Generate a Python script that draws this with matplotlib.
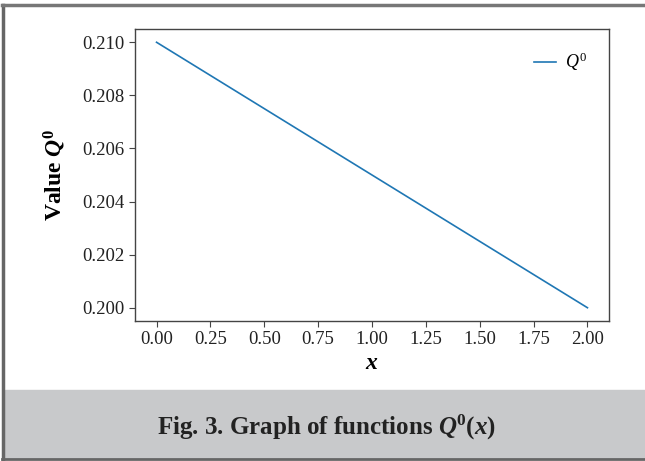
import matplotlib.pyplot as plt
from matplotlib.patches import Rectangle
import numpy as np

x_vals = [0.0, 2.0]
q0_vals = [0.210, 0.200]
x_ticks = [0.00, 0.25, 0.50, 0.75, 1.00, 1.25, 1.50, 1.75, 2.00]
y_ticks = [0.200, 0.202, 0.204, 0.206, 0.208, 0.210]

plt.rcParams['font.family'] = ['Liberation Serif', 'DejaVu Serif']
plt.rcParams['mathtext.fontset'] = 'custom'
plt.rcParams['mathtext.rm'] = 'Liberation Serif'
plt.rcParams['mathtext.it'] = 'Liberation Serif:italic'
plt.rcParams['mathtext.bf'] = 'Liberation Serif:italic:bold'
plt.rcParams['mathtext.sf'] = 'Liberation Serif:bold'

W, H = 645, 461
fig = plt.figure(figsize=(W / 100, H / 100), dpi=100)

# frame and caption band
fig.patches.append(Rectangle((5 / W, 1 - 458 / H), 640 / W, 68 / H,
                             transform=fig.transFigure, color='#c8c9cb', zorder=0))
fig.add_artist(plt.Line2D([3 / W, 3 / W], [1 - 460 / H, 1 - 5 / H], transform=fig.transFigure,
                          color='#666666', lw=2.5))
fig.add_artist(plt.Line2D([2 / W, 1], [1 - 5.5 / H, 1 - 5.5 / H], transform=fig.transFigure,
                          color='#777777', lw=2.5))
fig.add_artist(plt.Line2D([2 / W, 1], [1 - 459 / H, 1 - 459 / H], transform=fig.transFigure,
                          color='#666666', lw=2))

ax = fig.add_axes([135 / W, 1 - 321 / H, 474 / W, 292 / H])
ax.plot(x_vals, q0_vals, color='#1f77b4', lw=1.2, label='$Q^{\\mathrm{0}}$')
ax.set_xticks(x_ticks)
ax.set_xticklabels([f"{v:.2f}" for v in x_ticks])
ax.set_yticks(y_ticks)
ax.set_yticklabels([f"{v:.3f}" for v in y_ticks])
ax.set_xlim(-0.1, 2.1)
ax.set_ylim(0.1995, 0.2105)
ax.tick_params(labelsize=13.5, color='#444444', labelcolor='#222222', length=4)
for s in ax.spines.values():
    s.set_color('#444444')
    s.set_linewidth(1.0)

ax.set_xlabel('$\\mathbf{x}$', fontsize=17, labelpad=3)
ax.set_ylabel('Value $\\mathbf{Q}^{\\mathsf{0}}$', fontsize=17, fontweight='bold', labelpad=10)
ax.legend(frameon=False, fontsize=13, loc='upper right', handlelength=1.2,
          handletextpad=0.5, borderaxespad=0.8)

fig.text(326 / W, 1 - 427 / H, 'Fig. 3. Graph of functions $\\mathbf{Q}^{\\mathsf{0}}$($\\mathbf{x}$)',
         fontsize=18, fontweight='bold', ha='center', va='center', color='#222222')

fig.savefig('out.png', dpi=100)
